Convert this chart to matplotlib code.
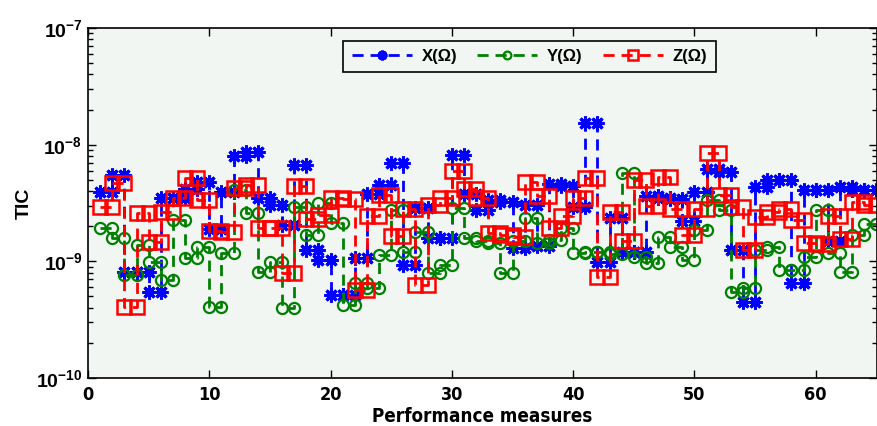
import numpy as np
import matplotlib
matplotlib.use("Agg")
import matplotlib.pyplot as plt
from matplotlib.ticker import FixedLocator, FixedFormatter, LogLocator, NullFormatter

# ---- data (value on each step [k, k+1], k = 1..64) ----
x_vals = [3.95e-9, 5.5e-9, 8.15e-10, 8.15e-10, 5.5e-10, 3.47e-9, 3.5e-9, 4.2e-9, 4.8e-9, 1.9e-9,
          3.95e-9, 8.0e-9, 8.7e-9, 3.47e-9, 3.04e-9, 2.05e-9, 6.7e-9, 1.25e-9, 1.03e-9, 5.1e-10,
          5.1e-10, 1.06e-9, 3.8e-9, 4.5e-9, 6.9e-9, 9.3e-10, 2.88e-9, 1.57e-9, 1.57e-9, 8.15e-9,
          3.8e-9, 2.75e-9, 3.36e-9, 3.25e-9, 1.3e-9, 3.04e-9, 1.35e-9, 4.6e-9, 4.4e-9, 2.9e-9,
          1.52e-8, 9.9e-10, 2.33e-9, 1.21e-9, 1.21e-9, 3.6e-9, 3.5e-9, 3.4e-9, 2.2e-9, 3.9e-9,
          6.2e-9, 5.8e-9, 1.25e-9, 4.5e-10, 4.36e-9, 4.98e-9, 4.98e-9, 6.47e-10, 4.08e-9, 4.08e-9,
          1.5e-9, 4.36e-9, 4.1e-9, 4.1e-9]
y_vals = [1.92e-9, 1.57e-9, 7.6e-10, 1.38e-9, 9.9e-10, 6.9e-10, 2.26e-9, 1.06e-9, 1.34e-9, 4.08e-10,
          1.17e-9, 4.08e-9, 2.58e-9, 8.15e-10, 9.9e-10, 3.95e-10, 2.94e-9, 1.68e-9, 3.15e-9, 2.12e-9,
          4.2e-10, 6.5e-10, 5.9e-10, 1.13e-9, 2.75e-9, 1.21e-9, 1.8e-9, 7.9e-10, 9.3e-10, 2.85e-9,
          1.57e-9, 1.48e-9, 1.43e-9, 7.9e-10, 1.48e-9, 2.33e-9, 1.43e-9, 1.53e-9, 1.92e-9, 1.17e-9,
          1.21e-9, 1.2e-9, 1.15e-9, 5.75e-9, 1.1e-9, 9.6e-10, 1.63e-9, 1.34e-9, 1.03e-9, 1.86e-9,
          3.36e-9, 2.75e-9, 5.5e-10, 5.9e-10, 1.25e-9, 1.34e-9, 8.5e-10, 8.4e-10, 1.1e-9, 2.75e-9,
          1.17e-9, 8.15e-10, 1.68e-9, 2.1e-9]
z_vals = [2.94e-9, 4.72e-9, 4.08e-10, 2.58e-9, 1.47e-9, 2.67e-9, 3.47e-9, 5.21e-9, 3.36e-9, 1.83e-9,
          1.8e-9, 4.23e-9, 4.51e-9, 1.92e-9, 1.92e-9, 8.0e-10, 4.43e-9, 2.29e-9, 2.49e-9, 3.47e-9,
          3.4e-9, 5.68e-10, 2.45e-9, 3.71e-9, 1.66e-9, 2.81e-9, 6.27e-10, 3.04e-9, 3.47e-9, 5.94e-9,
          4.14e-9, 3.47e-9, 1.76e-9, 1.68e-9, 1.61e-9, 4.82e-9, 3.63e-9, 1.92e-9, 2.45e-9, 3.47e-9,
          5.21e-9, 7.4e-10, 2.67e-9, 1.49e-9, 4.98e-9, 2.98e-9, 5.32e-9, 2.79e-9, 1.68e-9, 2.79e-9,
          8.54e-9, 3.71e-9, 2.94e-9, 1.25e-9, 2.41e-9, 2.67e-9, 2.79e-9, 2.26e-9, 1.43e-9, 1.41e-9,
          2.45e-9, 1.55e-9, 3.25e-9, 3.04e-9]
series_labels = ["X(\u03a9)", "Y(\u03a9)", "Z(\u03a9)"]
x_ticks = [0, 10, 20, 30, 40, 50, 60]
y_ticks = [1e-10, 1e-9, 1e-8, 1e-7]
y_tick_labels = [r"$\mathbf{10^{-10}}$", r"$\mathbf{10^{-9}}$", r"$\mathbf{10^{-8}}$", r"$\mathbf{10^{-7}}$"]
x_label = "Performance measures"
y_label = "TIC"

plt.rcParams['mathtext.fontset'] = 'custom'
plt.rcParams['mathtext.bf'] = 'Liberation Sans:bold'
plt.rcParams['mathtext.rm'] = 'Liberation Sans'

def stairs(vals):
    v = np.asarray(vals)
    n = len(v)
    edges = np.arange(1, n + 2)
    xs = np.repeat(edges, 2)[1:-1]
    ys = np.repeat(v, 2)
    return xs, ys

fig = plt.figure(figsize=(8.77, 4.26), dpi=100)
ax = fig.add_axes([88 / 877, 48 / 426, 789 / 877, 350 / 426])
ax.set_facecolor('#f1f6f3')

styles = [
    dict(color='#0000ff', marker=(8, 2, 0), ms=10, mew=2.2),
    dict(color='#008000', marker='o', ms=8, mew=1.6, mfc='none'),
    dict(color='#ff0000', marker='s', ms=10, mew=1.8, mfc='none'),
]
for vals, lab, st in zip([x_vals, y_vals, z_vals], series_labels, styles):
    xs, ys = stairs(vals)
    ax.plot(xs, ys, linestyle='--', lw=2, dashes=(4, 2.5), label=lab, **st)

ax.set_yscale('log')
ax.set_ylim(1e-10, 1e-7)
ax.set_xlim(0, 65.05)

ax.xaxis.set_major_locator(FixedLocator(x_ticks))
ax.set_xticklabels([str(t) for t in x_ticks])
ax.yaxis.set_major_locator(FixedLocator(y_ticks))
ax.yaxis.set_major_formatter(FixedFormatter(y_tick_labels))
ax.yaxis.set_minor_locator(LogLocator(base=10, subs=np.arange(2, 10)))
ax.yaxis.set_minor_formatter(NullFormatter())

ax.tick_params(which='both', direction='in', top=True, right=True, width=1)
ax.tick_params(which='major', length=6)
ax.tick_params(which='minor', length=3.5)
ax.tick_params(axis='y', labelsize=14, pad=4)
ax.tick_params(axis='x', pad=6)
for lbl in ax.get_xticklabels():
    lbl.set_fontfamily('DejaVu Sans')
    lbl.set_fontstretch('condensed')
    lbl.set_fontweight('bold')
    lbl.set_fontsize(13)

ax.set_xlabel(x_label, family='DejaVu Sans', fontstretch='condensed', fontweight='bold',
              fontsize=13.5, labelpad=2)
ax.set_ylabel(y_label, family=['Liberation Sans', 'DejaVu Sans'], fontweight='bold',
              fontsize=14, labelpad=2)

for sp in ax.spines.values():
    sp.set_linewidth(1.2)

leg = ax.legend(loc='center', bbox_to_anchor=((529.5 - 88) / 789, 1 - (56.5 - 28) / 350),
                ncol=3, frameon=True, fancybox=False, edgecolor='black', facecolor='#f1f6f3',
                framealpha=1, numpoints=1, handlelength=3.6, columnspacing=1.2,
                handletextpad=0.6, borderpad=0.5, markerscale=0.7,
                prop=dict(family=['Liberation Sans', 'DejaVu Sans'], weight='bold', size=12))
leg.get_frame().set_linewidth(1.2)

fig.savefig('out.png', dpi=100)
